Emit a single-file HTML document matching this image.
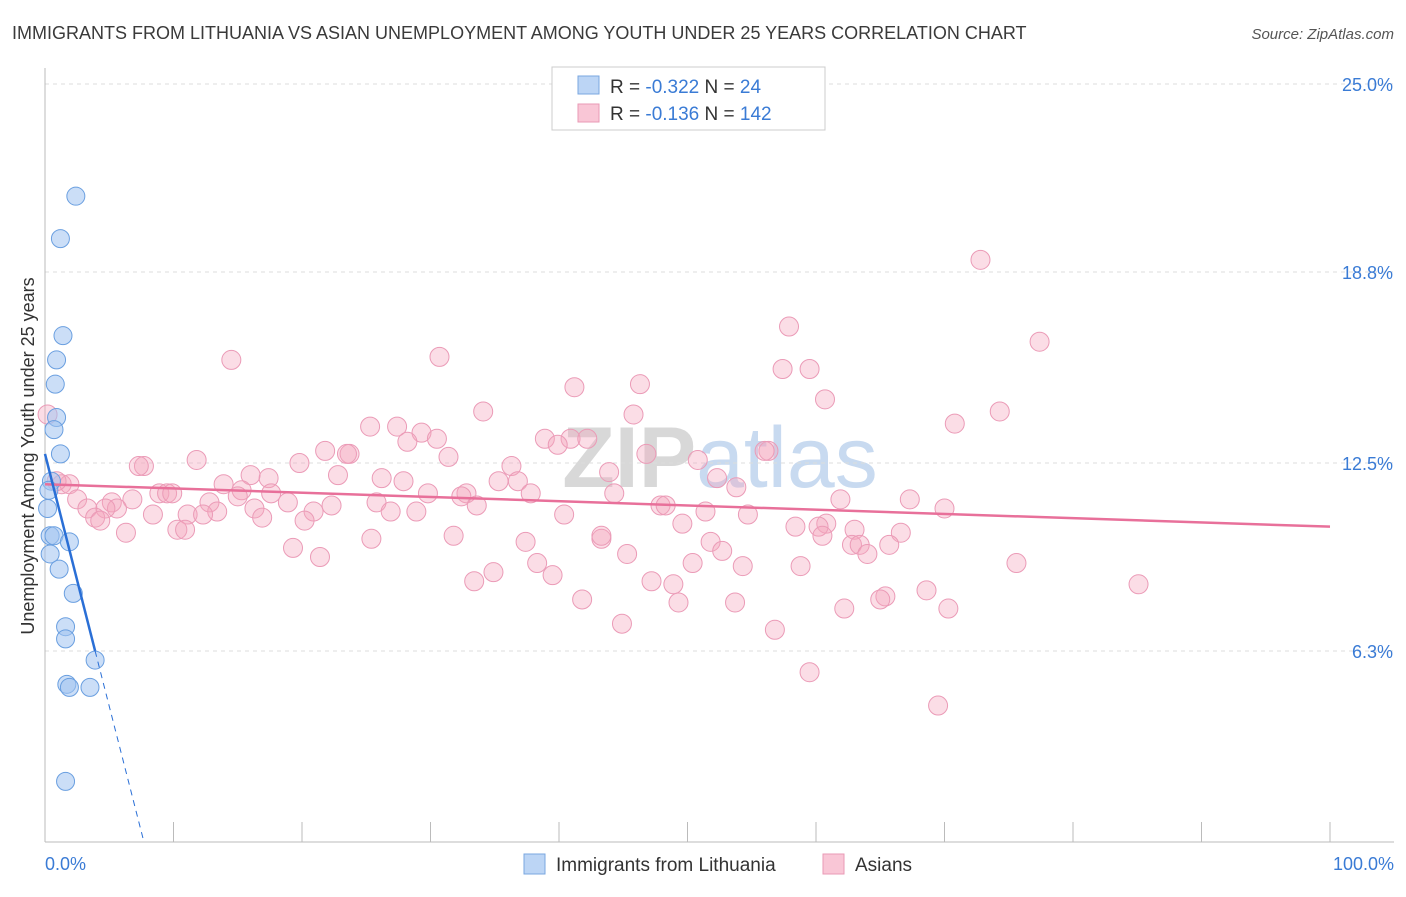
<!DOCTYPE html>
<html><head><meta charset="utf-8"><style>
body{margin:0;background:#fff;font-family:"Liberation Sans",sans-serif;}
svg text{font-family:"Liberation Sans",sans-serif;}
</style></head><body>
<svg id="chart" width="1406" height="892" xmlns="http://www.w3.org/2000/svg">
<text x="12" y="39" font-size="18" fill="#3a3a3a">IMMIGRANTS FROM LITHUANIA VS ASIAN UNEMPLOYMENT AMONG YOUTH UNDER 25 YEARS CORRELATION CHART</text>
<text x="1394" y="39" font-size="15" fill="#555" font-style="italic" text-anchor="end">Source: ZipAtlas.com</text>
<text x="720" y="487" font-size="86" fill="#d8d8d8" text-anchor="middle" font-weight="bold">ZIP<tspan fill="#c8daf0" font-weight="normal">atlas</tspan></text>
<g id="grid"></g>
<g id="axes"></g>
<g id="pts"></g>
<g id="trend"></g>
<text transform="translate(34,456) rotate(-90)" font-size="18" fill="#333" text-anchor="middle">Unemployment Among Youth under 25 years</text>
<text x="45" y="870" font-size="18" fill="#3a7bd5">0.0%</text>
<text x="1394" y="870" font-size="18" fill="#3a7bd5" text-anchor="end">100.0%</text>
<g>
<rect x="552" y="67" width="273" height="63" fill="#fff" stroke="#ccc"/>
<rect x="578" y="76" width="21" height="18" fill="#bcd5f5" stroke="#7aa7e0"/>
<rect x="578" y="104" width="21" height="18" fill="#f9c6d6" stroke="#e99ab5"/>
<text x="610" y="93" font-size="19" fill="#333">R = <tspan fill="#3a7bd5">-0.322</tspan>   N = <tspan fill="#3a7bd5">  24</tspan></text>
<text x="610" y="120" font-size="19" fill="#333">R = <tspan fill="#3a7bd5">-0.136</tspan>   N = <tspan fill="#3a7bd5">142</tspan></text>
</g>
<g>
<rect x="524" y="854" width="21" height="20" fill="#bcd5f5" stroke="#7aa7e0"/>
<text x="556" y="871" font-size="19" fill="#333">Immigrants from Lithuania</text>
<rect x="823" y="854" width="21" height="20" fill="#f9c6d6" stroke="#e99ab5"/>
<text x="855" y="871" font-size="19" fill="#333">Asians</text>
</g>
</svg>
<script>
const yTicks=[25,18.8,12.5,6.3];
const yTickLabels=["25.0%","18.8%","12.5%","6.3%"];
const xTicks=[0,10,20,30,40,50,60,70,80,90,100];
const blueX=[2.4,1.2,1.4,0.9,0.8,0.9,0.7,1.2,0.5,0.3,0.2,0.4,0.7,0.4,1.9,1.1,2.2,1.6,1.6,3.9,1.7,1.9,3.5,1.6];
const blueY=[21.3,19.9,16.7,15.9,15.1,14.0,13.6,12.8,11.9,11.6,11.0,10.1,10.1,9.5,9.9,9.0,8.2,7.1,6.7,6.0,5.2,5.1,5.1,2.0];
const pinkX=[72.8,57.9,77.4,14.5,30.7,59.5,57.4,41.2,46.3,60.7,74.3,34.1,45.8,0.2,70.8,27.4,29.3,30.5,25.3,28.2,38.9,40.9,42.2,39.9,56.3,56.0,46.8,21.8,23.7,23.5,31.4,50.8,19.8,11.8,7.7,7.3,36.3,43.9,26.2,52.3,22.8,16.0,17.4,13.9,35.3,36.8,27.9,53.8,32.8,1.3,1.9,0.9,8.9,9.5,9.9,15.3,17.6,29.8,44.3,37.8,32.4,18.9,12.8,22.3,25.8,6.8,5.2,2.5,15.0,47.9,48.3,61.9,67.3,33.6,70.0,16.3,20.9,5.6,4.7,3.3,13.4,11.1,12.3,26.9,28.9,40.4,51.4,54.7,16.9,20.2,8.4,3.9,4.3,49.6,60.8,10.3,10.9,6.3,31.8,25.4,43.3,43.3,58.4,60.2,63.0,66.6,60.5,62.8,63.4,65.7,51.8,37.4,52.7,45.3,64.0,21.4,19.3,38.3,50.4,75.6,54.3,34.9,58.8,39.5,33.4,47.2,48.9,85.1,68.6,65.4,41.8,53.7,49.3,62.2,70.3,65.0,44.9,56.8,59.5,69.5];
const pinkY=[19.2,17.0,16.5,15.9,16.0,15.6,15.6,15.0,15.1,14.6,14.2,14.2,14.1,14.1,13.8,13.7,13.5,13.3,13.7,13.2,13.3,13.3,13.3,13.1,12.9,12.9,12.8,12.9,12.8,12.8,12.7,12.6,12.5,12.6,12.4,12.4,12.4,12.2,12.0,12.0,12.1,12.1,12.0,11.8,11.9,11.9,11.9,11.7,11.5,11.8,11.8,11.9,11.5,11.5,11.5,11.6,11.5,11.5,11.5,11.5,11.4,11.2,11.2,11.1,11.2,11.3,11.2,11.3,11.4,11.1,11.1,11.3,11.3,11.1,11.0,11.0,10.9,11.0,11.0,11.0,10.9,10.8,10.8,10.9,10.9,10.8,10.9,10.8,10.7,10.6,10.8,10.7,10.6,10.5,10.5,10.3,10.3,10.2,10.1,10.0,10.0,10.1,10.4,10.4,10.3,10.2,10.1,9.8,9.8,9.8,9.9,9.9,9.6,9.5,9.5,9.4,9.7,9.2,9.2,9.2,9.1,8.9,9.1,8.8,8.6,8.6,8.5,8.5,8.3,8.1,8.0,7.9,7.9,7.7,7.7,8.0,7.2,7.0,5.6,4.5];
const blueTrend=[[0,12.8],[3.9,6.3]];
const blueDash=[[3.9,6.3],[7.7,0]];
const pinkTrend=[[0,11.8],[100,10.4]];
const NS="http://www.w3.org/2000/svg";
const sx=v=>45+v*12.85, sy=v=>842-v*30.32;
function mk(tag,attrs,parent){const e=document.createElementNS(NS,tag);for(const k in attrs)e.setAttribute(k,attrs[k]);parent.appendChild(e);return e;}
const grid=document.getElementById('grid'),axes=document.getElementById('axes'),pts=document.getElementById('pts'),trend=document.getElementById('trend');
yTicks.forEach((t,i)=>{
 const l=mk('line',{x1:45,x2:1394,y1:sy(t),y2:sy(t),stroke:'#ddd','stroke-dasharray':'4,4'},grid);
 
 
 const tx=mk('text',{x:1393,y:sy(t)+7,'font-size':18,fill:'#3a7bd5','text-anchor':'end'},axes);
 tx.textContent=yTickLabels[i];
 
 
});
const ax=mk('line',{x1:45,x2:1394,y1:842,y2:842,stroke:'#bbb'},axes);


const ay=mk('line',{x1:45,x2:45,y1:68,y2:842,stroke:'#bbb'},axes);


xTicks.forEach(t=>{
 const l=mk('line',{x1:sx(t),x2:sx(t),y1:822,y2:842,stroke:'#bbb'},axes);
 
 
});
pinkX.forEach((x,i)=>{
 const c=mk('circle',{cx:sx(x),cy:sy(pinkY[i]),r:9.5,fill:'rgba(245,165,190,0.38)',stroke:'#eb9bb7','stroke-width':1},pts);
 
 
});
blueX.forEach((x,i)=>{
 const c=mk('circle',{cx:sx(x),cy:sy(blueY[i]),r:9,fill:'rgba(160,195,240,0.55)',stroke:'#6a9fe0','stroke-width':1},pts);
 
 
});
const pl=mk('line',{x1:sx(pinkTrend[0][0]),y1:sy(pinkTrend[0][1]),x2:sx(pinkTrend[1][0]),y2:sy(pinkTrend[1][1]),stroke:'#e8709a','stroke-width':2.5},trend);


const bl=mk('line',{x1:sx(blueTrend[0][0]),y1:sy(blueTrend[0][1]),x2:sx(blueTrend[1][0]),y2:sy(blueTrend[1][1]),stroke:'#2a6fd6','stroke-width':2.5},trend);


const bd=mk('line',{x1:sx(blueDash[0][0]),y1:sy(blueDash[0][1]),x2:sx(blueDash[1][0]),y2:sy(blueDash[1][1]),stroke:'#2a6fd6','stroke-width':1,'stroke-dasharray':'6,5'},trend);


</script>
</body></html>
